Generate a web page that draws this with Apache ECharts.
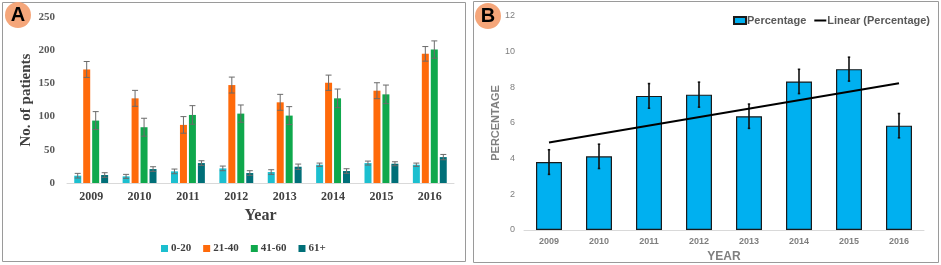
<!DOCTYPE html>
<html>
<head>
<meta charset="utf-8">
<script src="https://cdn.jsdelivr.net/npm/echarts@6/dist/echarts.min.js"></script>
<style>
  html, body { margin: 0; padding: 0; background: #fff; }
  #main { width: 941px; height: 265px; }
</style>
</head>
<body>
<div id="main"></div>
<script>
// panel A - patients by age group
var years = ['2009', '2010', '2011', '2012', '2013', '2014', '2015', '2016'];
var ageGroups = ['0-20', '21-40', '41-60', '61+'];
var age0_20 = [11, 10, 17.5, 22, 16.5, 27.5, 30, 27.5];
var age21_40 = [171, 127.5, 87.5, 147.5, 121.5, 151, 139, 194.5];
var age41_60 = [94, 84, 102.5, 104.5, 101.5, 127.5, 133.5, 201];
var age61 = [12, 21, 30, 15, 24.5, 18, 29, 39];
var err0_20 = [3.5, 3, 3.5, 3.5, 3.5, 2.5, 3, 2.5];
var err21_40 = [12, 12, 12.5, 12, 12, 11.5, 12, 11];
var err41_60 = [13.5, 13.5, 14, 13, 13.5, 14, 14, 13];
var err61 = [3.5, 3.5, 3.5, 3.5, 4, 3.5, 3, 4];
var yTicksA = [0, 50, 100, 150, 200, 250];

// panel B - percentage per year
var percentage = [3.81, 4.13, 7.52, 7.59, 6.38, 8.33, 9.02, 5.85];
var percentErr = [0.69, 0.68, 0.69, 0.7, 0.68, 0.68, 0.67, 0.68];
// trend line end points
var trendStart = 4.91;
var trendEnd = 8.23;
var yTicksB = [0, 2, 4, 6, 8, 10, 12];

var colorsA = ['#1cbfcf', '#ff6a0a', '#0fa84c', '#006f78'];
var valuesA = [age0_20, age21_40, age41_60, age61];
var errorsA = [err0_20, err21_40, err41_60, err61];

var serifFont = '"Liberation Serif", "Times New Roman", serif';
var sansFont = '"Liberation Sans", Arial, sans-serif';

var myChart = echarts.init(document.getElementById('main'));

function errorBars(yearList, vals, errs, offset, color, lineW, capW, xIdx, yIdx) {
    var data = [];
    for (var i = 0; i < yearList.length; i++) {
        data.push([i, vals[i] - errs[i], vals[i] + errs[i]]);
    }
    return {
        type: 'custom',
        xAxisIndex: xIdx,
        yAxisIndex: yIdx,
        silent: true,
        z: 5,
        data: data,
        renderItem: function (params, api) {
            var lo = api.coord([api.value(0), api.value(1)]);
            var hi = api.coord([api.value(0), api.value(2)]);
            var x = lo[0] + offset;
            var st = { stroke: color, lineWidth: lineW };
            return {
                type: 'group',
                children: [
                    { type: 'line', shape: { x1: x, y1: lo[1], x2: x, y2: hi[1] }, style: st },
                    { type: 'line', shape: { x1: x - capW, y1: hi[1], x2: x + capW, y2: hi[1] }, style: st },
                    { type: 'line', shape: { x1: x - capW, y1: lo[1], x2: x + capW, y2: lo[1] }, style: st }
                ]
            };
        }
    };
}

var series = [];
for (var s = 0; s < ageGroups.length; s++) {
    series.push({
        name: ageGroups[s],
        type: 'bar',
        xAxisIndex: 0,
        yAxisIndex: 0,
        barWidth: 7,
        barGap: '28%',
        itemStyle: { color: colorsA[s] },
        data: valuesA[s]
    });
}
for (var s = 0; s < ageGroups.length; s++) {
    series.push(errorBars(years, valuesA[s], errorsA[s], (s - 1.5) * 9, '#6b6b6b', 1, 3, 0, 0));
}

var trendData = [trendStart];
for (var i = 1; i < years.length - 1; i++) trendData.push(null);
trendData.push(trendEnd);

series.push({
    name: 'Percentage',
    type: 'bar',
    xAxisIndex: 1,
    yAxisIndex: 1,
    barWidth: 26,
    itemStyle: { color: '#00b0f0', borderColor: '#1a1a1a', borderWidth: 1.2 },
    data: percentage
});
series.push(errorBars(years, percentage, percentErr, 0, '#111', 1.6, 1.2, 1, 1));
series.push({
    name: 'Linear (Percentage)',
    type: 'line',
    xAxisIndex: 1,
    yAxisIndex: 1,
    symbol: 'none',
    connectNulls: true,
    z: 6,
    itemStyle: { color: '#000' },
    lineStyle: { color: '#000', width: 2 },
    data: trendData
});

option = {
    animation: false,
    legend: [
        {
            data: ageGroups,
            left: 156,
            top: 238,
            itemWidth: 7,
            itemHeight: 7,
            itemGap: 12,
            icon: 'rect',
            textStyle: { fontFamily: serifFont, fontWeight: 'bold', fontSize: 11, color: '#404040', padding: [0, 0, 0, -2] }
        },
        {
            data: [
                { name: 'Percentage', icon: 'rect' },
                { name: 'Linear (Percentage)', icon: 'path://M0,0H12V2H0Z' }
            ],
            right: 6,
            top: 10,
            itemWidth: 12,
            itemHeight: 7,
            itemGap: 8,
            textStyle: { fontFamily: sansFont, fontWeight: 'bold', fontSize: 11, color: '#595959', padding: [0, 0, 0, -4] }
        }
    ],
    grid: [
        { left: 67, right: 487, top: 17, bottom: 82, outerBoundsMode: 'none' },
        { left: 524, right: 17, top: 16, bottom: 35, outerBoundsMode: 'none' }
    ],
    xAxis: [
        {
            type: 'category',
            gridIndex: 0,
            data: years,
            name: 'Year',
            nameLocation: 'middle',
            nameGap: 23,
            nameTextStyle: { fontFamily: serifFont, fontWeight: 'bold', fontSize: 16, color: '#404040' },
            axisLine: { lineStyle: { color: '#d9d9d9' } },
            axisTick: { show: false },
            axisLabel: { fontFamily: serifFont, fontWeight: 'bold', fontSize: 12, color: '#404040', margin: 8 }
        },
        {
            type: 'category',
            gridIndex: 1,
            data: years,
            name: 'YEAR',
            nameLocation: 'middle',
            nameGap: 20,
            nameTextStyle: { fontFamily: sansFont, fontWeight: 'bold', fontSize: 12, color: '#7f7f7f' },
            axisLine: { lineStyle: { color: '#d9d9d9' } },
            axisTick: { show: false },
            axisLabel: { fontFamily: sansFont, fontWeight: 'bold', fontSize: 9, color: '#7f7f7f', margin: 7 }
        }
    ],
    yAxis: [
        {
            type: 'value',
            gridIndex: 0,
            min: yTicksA[0],
            max: yTicksA[yTicksA.length - 1],
            interval: yTicksA[1] - yTicksA[0],
            name: 'No. of patients',
            nameLocation: 'middle',
            nameGap: 33,
            nameTextStyle: { fontFamily: serifFont, fontWeight: 'bold', fontSize: 15, color: '#404040' },
            axisLine: { show: false },
            axisTick: { show: false },
            splitLine: { show: false },
            axisLabel: { fontFamily: serifFont, fontWeight: 'bold', fontSize: 11, color: '#595959', margin: 12 }
        },
        {
            type: 'value',
            gridIndex: 1,
            min: yTicksB[0],
            max: yTicksB[yTicksB.length - 1],
            interval: yTicksB[1] - yTicksB[0],
            name: 'PERCENTAGE',
            nameLocation: 'middle',
            nameGap: 22,
            nameTextStyle: { fontFamily: sansFont, fontWeight: 'bold', fontSize: 11, color: '#7f7f7f' },
            axisLine: { show: false },
            axisTick: { show: false },
            splitLine: { show: false },
            axisLabel: { fontFamily: sansFont, fontSize: 9, color: '#7f7f7f', margin: 9 }
        }
    ],
    graphic: [
        { type: 'rect', shape: { x: 2.5, y: 2.5, width: 463, height: 259 }, style: { fill: 'none', stroke: '#9a9a9a', lineWidth: 1 }, silent: true },
        { type: 'rect', shape: { x: 473.5, y: 1.5, width: 465, height: 261 }, style: { fill: 'none', stroke: '#9a9a9a', lineWidth: 1 }, silent: true },
        { type: 'circle', shape: { cx: 18, cy: 15, r: 13 }, style: { fill: '#f5a67a' }, silent: true },
        { type: 'text', x: 18, y: 15, style: { text: 'A', fontFamily: sansFont, fontWeight: 'bold', fontSize: 20, fill: '#000', align: 'center', verticalAlign: 'middle' }, silent: true },
        { type: 'circle', shape: { cx: 488, cy: 16, r: 13 }, style: { fill: '#f5a67a' }, silent: true },
        { type: 'text', x: 488, y: 16, style: { text: 'B', fontFamily: sansFont, fontWeight: 'bold', fontSize: 20, fill: '#000', align: 'center', verticalAlign: 'middle' }, silent: true }
    ],
    series: series
};
myChart.setOption(option);
</script>
</body>
</html>
